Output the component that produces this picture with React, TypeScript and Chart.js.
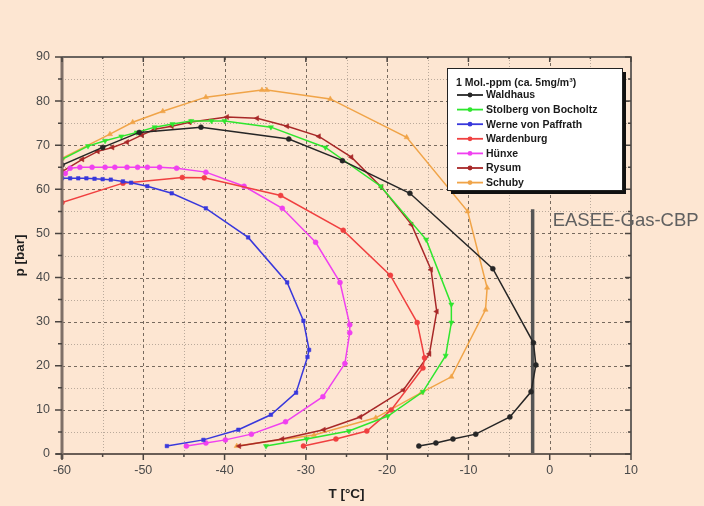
import React, { useEffect, useRef } from "react";
import { Chart, registerables } from "chart.js";

Chart.register(...registerables);

const FONT = "'Liberation Sans', Arial, sans-serif";
const BG = "#fde6d2";

// Series: temperature T [°C] and pressure p [bar]
const waldhausT = [-60, -55, -50.5, -42.9, -32.1, -25.5, -17.2, -7, -2, -1.7, -2.3, -4.9, -9.1, -11.9, -14, -16.1];
const waldhausP = [65.5, 69.5, 72.9, 74.1, 71.4, 66.5, 59.1, 42, 25.2, 20.2, 14.1, 8.4, 4.5, 3.4, 2.5, 1.8];

const stolbergT = [-60, -56.8, -54.7, -52.7, -50.8, -48.6, -46.4, -44.1, -41.6, -40, -34.3, -27.6, -20.8, -15.2, -12.1, -12.1, -12.8, -15.6, -19.9, -24.7, -29.9, -34.9];
const stolbergP = [66.8, 69.8, 71, 72, 72.9, 74.1, 74.8, 75.5, 75.5, 75.5, 74.1, 69.5, 60.7, 48.6, 33.9, 29.8, 22.3, 14.1, 8.6, 5.2, 3.4, 1.8];

const werneT = [-60, -59, -58, -57, -56, -55, -54, -52.5, -51.5, -49.5, -46.5, -42.3, -37.1, -32.3, -30.3, -29.6, -29.8, -31.2, -34.3, -38.3, -42.6, -47.1];
const werneP = [62.5, 62.5, 62.5, 62.5, 62.4, 62.3, 62.2, 61.8, 61.5, 60.7, 59.1, 55.7, 49.1, 38.9, 30.2, 23.6, 22, 13.9, 8.9, 5.5, 3.2, 1.8];

const wardenburgT = [-60, -52.5, -45.2, -42.5, -33.1, -25.4, -19.6, -16.3, -15.4, -15.6, -19.5, -22.5, -26.3, -30.3];
const wardenburgP = [57, 61.4, 62.7, 62.6, 58.6, 50.7, 40.5, 29.8, 21.8, 19.5, 10, 5.2, 3.4, 1.8];

const huenxeT = [-59.6, -59, -57.8, -56.3, -54.7, -53.5, -52, -50.7, -49.5, -48, -45.9, -42.3, -37.6, -32.9, -28.8, -25.8, -24.6, -24.6, -25.2, -27.9, -32.5, -36.7, -39.9, -42.3, -44.7];
const huenxeP = [63.6, 64.8, 65, 65, 65, 65, 65, 65, 65, 65, 64.8, 63.9, 60.7, 55.7, 48, 38.9, 29.3, 27.5, 20.5, 13, 7.3, 4.5, 3.2, 2.5, 1.8];

const rysumT = [-60, -57.5, -55.6, -53.8, -52, -50.2, -48.6, -46.5, -44.3, -39.7, -36, -32.3, -28.4, -24.4, -20.7, -17, -14.6, -13.9, -14.8, -18, -23.3, -27.8, -32.9, -38.2];
const rysumP = [64, 66.8, 68.6, 69.5, 70.7, 72.3, 73.6, 74.3, 75.2, 76.4, 76.1, 74.3, 72, 67.3, 60.5, 52, 41.8, 32.3, 22.7, 14.5, 8.4, 5.5, 3.4, 1.8];

const schubyT = [-60, -54.1, -51.3, -47.6, -42.3, -35.4, -34.8, -27, -17.6, -10.1, -7.7, -7.9, -12.1, -15.8, -21.4, -29, -38.5];
const schubyP = [67, 72.5, 75.2, 77.7, 80.9, 82.5, 82.5, 80.5, 71.8, 55, 37.7, 32.7, 17.5, 13.9, 8.2, 4.3, 1.8];

const easeeT = [-2.1, -2.1];
const easeeP = [0, 55.5];

const seriesNames = ["Waldhaus", "Stolberg von Bocholtz", "Werne von Paffrath", "Wardenburg", "Hünxe", "Rysum", "Schuby"];
const seriesColors = ["#262626", "#2ee62e", "#3838dc", "#f04040", "#f040f0", "#a82828", "#f0a448"];
const seriesMarkers = ["circle", "triangle", "rect", "circle", "circle", "triangle", "triangle"];
const seriesRotation = [0, 180, 0, 0, 0, 270, 0];
const seriesT = [waldhausT, stolbergT, werneT, wardenburgT, huenxeT, rysumT, schubyT];
const seriesP = [waldhausP, stolbergP, werneP, wardenburgP, huenxeP, rysumP, schubyP];

const legendTitle = "1 Mol.-ppm (ca. 5mg/m³)";
const annotationText = "EASEE-Gas-CBP";

const xMin = -60, xMax = 10, yMin = 0, yMax = 90;

const toPoints = (t: number[], p: number[]) => t.map((v, i) => ({ x: v, y: p[i] }));

const bgPlugin = {
  id: "bg",
  beforeDraw(chart: any) {
    const { ctx, width, height } = chart;
    ctx.save();
    ctx.fillStyle = BG;
    ctx.fillRect(0, 0, width, height);
    ctx.restore();
  },
};

const gridPlugin = {
  id: "customGrid",
  beforeDatasetsDraw(chart: any) {
    const { ctx, chartArea: a, scales } = chart;
    const xs = scales.x, ys = scales.y;
    ctx.save();
    ctx.beginPath();
    ctx.rect(a.left, a.top, a.right - a.left, a.bottom - a.top);
    ctx.clip();
    for (let v = xMin + 5; v < xMax; v += 5) {
      const px = Math.round(xs.getPixelForValue(v)) + 0.5;
      const major = v % 10 === 0;
      ctx.strokeStyle = major ? "rgba(85,75,65,0.8)" : "rgba(120,110,100,0.5)";
      ctx.setLineDash(major ? [3, 3] : [1, 2]);
      ctx.lineWidth = 1;
      ctx.beginPath();
      ctx.moveTo(px, a.top);
      ctx.lineTo(px, a.bottom);
      ctx.stroke();
    }
    for (let v = yMin + 5; v < yMax; v += 5) {
      const py = Math.round(ys.getPixelForValue(v)) + 0.5;
      const major = v % 10 === 0;
      ctx.strokeStyle = major ? "rgba(85,75,65,0.8)" : "rgba(120,110,100,0.5)";
      ctx.setLineDash(major ? [3, 3] : [1, 2]);
      ctx.lineWidth = 1;
      ctx.beginPath();
      ctx.moveTo(a.left, py);
      ctx.lineTo(a.right, py);
      ctx.stroke();
    }
    ctx.restore();
  },
  afterDatasetsDraw(chart: any) {
    const { ctx, chartArea: a, scales } = chart;
    const xs = scales.x, ys = scales.y;
    ctx.save();
    ctx.setLineDash([]);
    ctx.strokeStyle = "#3a3a3a";
    ctx.lineWidth = 1.5;
    ctx.beginPath();
    ctx.moveTo(a.left, a.top);
    ctx.lineTo(a.right, a.top);
    ctx.lineTo(a.right, a.bottom);
    ctx.stroke();
    ctx.strokeStyle = "#6a5e56";
    ctx.lineWidth = 2;
    ctx.beginPath();
    ctx.moveTo(a.left - 6, a.bottom);
    ctx.lineTo(a.right, a.bottom);
    ctx.stroke();
    ctx.strokeStyle = "#7f7068";
    ctx.lineWidth = 3;
    ctx.beginPath();
    ctx.moveTo(a.left, a.top);
    ctx.lineTo(a.left, a.bottom + 5);
    ctx.stroke();
    ctx.strokeStyle = "#4a4440";
    ctx.lineWidth = 1.5;
    for (let v = xMin; v <= xMax; v += 5) {
      const px = xs.getPixelForValue(v);
      const len = v % 10 === 0 ? 6 : 3;
      ctx.beginPath();
      ctx.moveTo(px, a.bottom);
      ctx.lineTo(px, a.bottom + len);
      ctx.moveTo(px, a.top);
      ctx.lineTo(px, a.top + len - 1);
      ctx.stroke();
    }
    for (let v = yMin; v <= yMax; v += 5) {
      const py = ys.getPixelForValue(v);
      const len = v % 10 === 0 ? 7 : 4;
      ctx.beginPath();
      ctx.moveTo(a.left - len, py);
      ctx.lineTo(a.left, py);
      ctx.moveTo(a.right, py);
      ctx.lineTo(a.right - len + 1, py);
      ctx.stroke();
    }
    ctx.restore();
  },
};

const legendPlugin = {
  id: "boxLegend",
  afterDraw(chart: any) {
    const { ctx } = chart;
    const x = 447, y = 68, w = 175, h = 122;
    ctx.save();
    ctx.fillStyle = "#111";
    ctx.fillRect(x + 4, y + 4, w, h);
    ctx.fillStyle = "#ffffff";
    ctx.fillRect(x, y, w, h);
    ctx.strokeStyle = "#222";
    ctx.lineWidth = 1;
    ctx.strokeRect(x + 0.5, y + 0.5, w, h);
    ctx.fillStyle = "#1a1a1a";
    ctx.font = `bold 10.5px ${FONT}`;
    ctx.textBaseline = "middle";
    ctx.fillText(legendTitle, x + 9, y + 15);
    const items = chart.data.datasets.filter((d: any) => d.inLegend);
    items.forEach((d: any, i: number) => {
      const cy = y + 27 + i * 14.6;
      ctx.strokeStyle = d.borderColor;
      ctx.lineWidth = 1.8;
      ctx.beginPath();
      ctx.moveTo(x + 10, cy);
      ctx.lineTo(x + 36, cy);
      ctx.stroke();
      ctx.fillStyle = d.borderColor;
      ctx.beginPath();
      ctx.arc(x + 23, cy, 2.4, 0, Math.PI * 2);
      ctx.fill();
      ctx.fillStyle = "#1a1a1a";
      ctx.fillText(d.label, x + 39, cy + 0.5);
    });
    ctx.restore();
  },
};

const annotationPlugin = {
  id: "easeeText",
  afterDraw(chart: any) {
    const { ctx, scales } = chart;
    const px = scales.x.getPixelForValue(easeeT[0]) + 20;
    const py = scales.y.getPixelForValue(easeeP[1]) + 17;
    ctx.save();
    ctx.fillStyle = "#606060";
    ctx.font = `18.5px ${FONT}`;
    ctx.textBaseline = "alphabetic";
    ctx.fillText(annotationText, px, py);
    ctx.restore();
  },
};

export default function App() {
  const ref = useRef<HTMLCanvasElement | null>(null);
  useEffect(() => {
    if (!ref.current) return;
    document.body.style.margin = "0";
    const datasets: any[] = seriesNames.map((name, i) => ({
      label: name,
      inLegend: true,
      data: toPoints(seriesT[i], seriesP[i]),
      showLine: true,
      borderColor: seriesColors[i],
      backgroundColor: seriesColors[i],
      borderWidth: 1.5,
      pointStyle: seriesMarkers[i],
      rotation: seriesRotation[i],
      pointRadius: seriesMarkers[i] === "triangle" ? 3 : 2.5,
      pointBorderWidth: 0.5,
      tension: 0,
    }));
    datasets.push({
      label: "EASEE-Gas-CBP",
      inLegend: false,
      data: toPoints(easeeT, easeeP),
      showLine: true,
      borderColor: "#555555",
      backgroundColor: "#555555",
      borderWidth: 3.5,
      pointRadius: 0,
      clip: false,
    });
    const chart = new Chart(ref.current, {
      type: "scatter",
      data: { datasets },
      options: {
        responsive: false,
        animation: false,
        devicePixelRatio: 1,
        layout: { padding: { left: 0, top: 57, right: 73, bottom: 0 } },
        plugins: { legend: { display: false }, tooltip: { enabled: false } },
        scales: {
          x: {
            type: "linear",
            min: xMin,
            max: xMax,
            ticks: { stepSize: 10, color: "#4a4a4a", font: { family: FONT, size: 12.5 }, padding: 9, maxRotation: 0 },
            grid: { display: false, drawTicks: false },
            border: { display: false },
            title: { display: true, text: "T [°C]", color: "#1e1e1e", font: { family: FONT, size: 13.5, weight: "bold" }, padding: { top: 0, bottom: 4 } },
            afterFit: (s: any) => { s.height = 52; },
          },
          y: {
            type: "linear",
            min: yMin,
            max: yMax,
            ticks: { stepSize: 10, color: "#4a4a4a", font: { family: FONT, size: 12.5 }, padding: 12 },
            grid: { display: false, drawTicks: false },
            border: { display: false },
            title: { display: true, text: "p [bar]", color: "#1e1e1e", font: { family: FONT, size: 13.5, weight: "bold" }, padding: { top: 12, bottom: 0 } },
            afterFit: (s: any) => { s.width = 62; },
          },
        },
      } as any,
      plugins: [bgPlugin, gridPlugin, legendPlugin, annotationPlugin],
    });
    return () => chart.destroy();
  }, []);
  return (
    <div style={{ position: "fixed", left: 0, top: 0, width: 704, height: 506, background: BG }}>
      <canvas ref={ref} width={704} height={506} style={{ display: "block" }} />
    </div>
  );
}
